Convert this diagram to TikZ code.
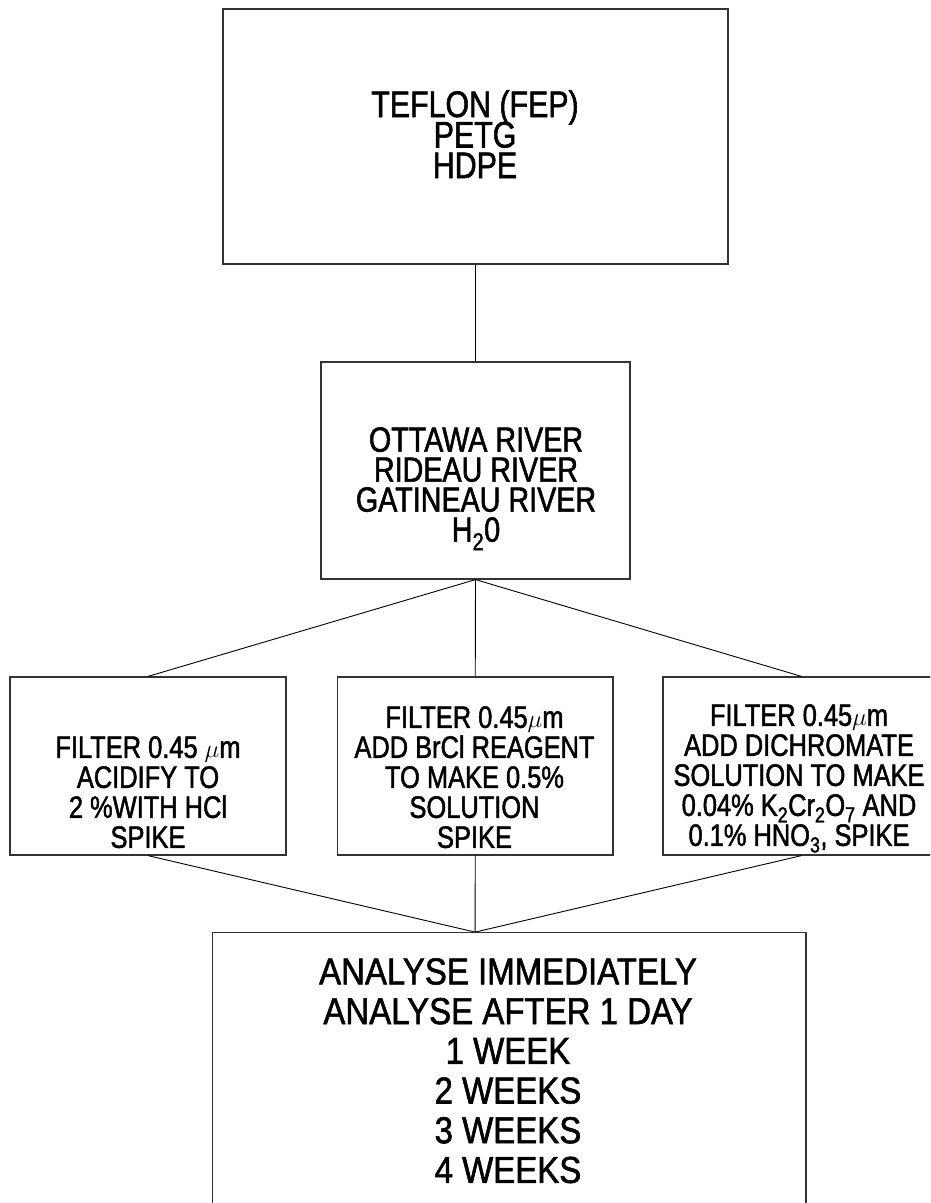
\documentclass[tikz,border=0pt]{standalone}
\usepackage{fontspec}
\setmainfont{Liberation Sans}
\newfontfamily\tfont[FakeStretch=0.82,FakeBold=1.5]{Liberation Sans}
\newfontfamily\bfontw[FakeStretch=0.88,FakeBold=1.5]{Liberation Sans}
\newcommand\fnttop{\tfont\fontsize{37}{30.5}\selectfont\lineskiplimit=-1000pt\relax}
\newcommand\fntmid{\tfont\fontsize{35}{30}\selectfont\lineskiplimit=-1000pt\relax}
\newcommand\fntthree{\tfont\fontsize{31}{30}\selectfont\lineskiplimit=-1000pt\relax}
\newcommand\fntbot{\bfontw\fontsize{37.5}{39.7}\selectfont\lineskiplimit=-1000pt\relax}
\begin{document}
\begin{tikzpicture}[x=1pt,y=-1pt,
  box/.style={draw=black!80, line width=1.2pt, inner sep=0pt},
  lbl/.style={inner sep=0pt, anchor=north, align=center},
  conn/.style={draw=black, line width=0.9pt}]
\useasboundingbox (0,0) rectangle (930,1203);
\clip (0,0) rectangle (930,1203);
% boxes
\node[box, minimum width=505pt, minimum height=255pt] (top) at (475.5,136.5) {};
\node[box, minimum width=309pt, minimum height=217pt] (mid) at (475.5,470.5) {};
\node[box, minimum width=276pt, minimum height=178pt] (left) at (148,766) {};
\node[box, minimum width=275.5pt, minimum height=178pt] (center) at (475.25,766) {};
\node[box, minimum width=277pt, minimum height=178pt] (right) at (801.5,766) {};
\node[box, minimum width=593.5pt, minimum height=290pt] (bot) at (509.25,1077.7) {};
\path (bot.north west) ++(263.2,0) coordinate (botin);
% texts
\node[lbl, font=\fnttop] (ttop) at (475,90) {TEFLON (FEP)\\PETG\\HDPE};
\node[lbl, font=\fntmid] (tmid) at (476,427) {OTTAWA RIVER\\RIDEAU RIVER\\GATINEAU RIVER\\H\textsubscript{2}0};
\node[lbl, font=\fntthree] (tleft) at (148,736) {FILTER 0.45 $\mu$m\\ACIDIFY TO\\2 \%WITH HCl\\SPIKE};
\node[lbl, font=\fntthree] (tcenter) at (474.5,706) {FILTER 0.45$\mu$m\\ADD BrCl REAGENT\\TO MAKE 0.5\%\\SOLUTION\\SPIKE};
\node[lbl, font=\fntthree] (tright) at (799,704) {FILTER 0.45$\mu$m\\ADD DICHROMATE\\SOLUTION TO MAKE\\0.04\% K\textsubscript{2}Cr\textsubscript{2}O\textsubscript{7} AND\\0.1\% HNO\textsubscript{3}, SPIKE};
\node[lbl, font=\fntbot] (tbot) at (508,958) {ANALYSE IMMEDIATELY\\ANALYSE AFTER 1 DAY\\1 WEEK\\2 WEEKS\\3 WEEKS\\4 WEEKS};
% connectors
\draw[conn] (top.south) -- (mid.north);
\draw[conn] (mid.south) -- (left.north);
\draw[conn] (mid.south) -- (center.north);
\draw[conn] (mid.south) -- (right.north);
\draw[conn] (left.south) -- (botin);
\draw[conn] (center.south) -- (botin);
\draw[conn] (right.south) -- (botin);
\end{tikzpicture}
\end{document}
